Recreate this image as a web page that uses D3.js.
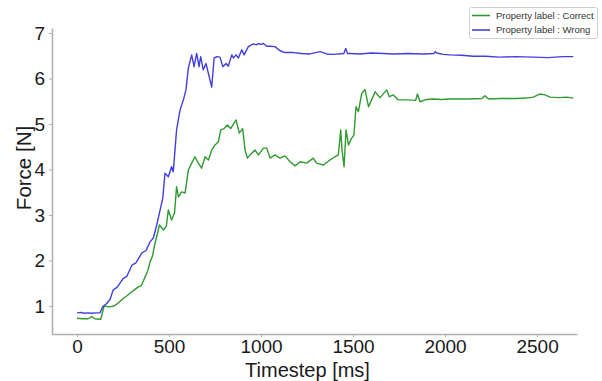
<!DOCTYPE html>
<html>
<head>
<meta charset="utf-8">
<script src="https://cdn.jsdelivr.net/npm/d3@7"></script>
<style>
  html, body { margin: 0; padding: 0; background: #fff; }
  svg { display: block; font-family: "Liberation Sans", Arial, sans-serif; }
</style>
</head>
<body>
<svg id="chart" width="602" height="381"></svg>
<script>
const seriesNames = ["Property label : Correct", "Property label : Wrong"];
const seriesColors = ["#2f9a2f", "#4040e0"];

const correctTime = [0,30,60,80,95,129,147,179,200,216,252,270,288,310,333,350,370,385,397,410,424,448,470,485,496,514,530,541,551,569,587,605,623,641,659,677,696,714,732,750,768,781,799,817,835,864,882,900,913,926,949,967,986,1013,1031,1049,1076,1103,1130,1158,1185,1212,1248,1284,1302,1339,1375,1402,1420,1433,1440,1451,1462,1475,1487,1505,1516,1529,1547,1565,1584,1601,1620,1647,1683,1697,1719,1746,1792,1840,1850,1864,1900,1937,1980,2027,2070,2118,2200,2217,2236,2300,2390,2440,2480,2516,2543,2571,2620,2661,2697];
const correctForce = [0.73,0.72,0.72,0.77,0.72,0.71,1.00,0.98,1.00,1.04,1.17,1.22,1.28,1.35,1.42,1.45,1.64,1.78,1.97,2.10,2.38,2.78,2.67,2.75,3.11,2.89,3.05,3.62,3.40,3.51,3.48,3.99,4.14,4.28,4.14,4.03,4.28,4.21,4.43,4.54,4.61,4.87,4.90,4.98,4.90,5.09,4.80,4.90,4.43,4.25,4.36,4.43,4.32,4.47,4.47,4.25,4.32,4.25,4.30,4.17,4.08,4.17,4.14,4.25,4.14,4.10,4.21,4.28,4.32,4.87,4.43,4.06,4.87,4.54,4.65,4.76,5.38,5.27,5.67,5.76,5.38,5.53,5.71,5.58,5.75,5.60,5.64,5.53,5.53,5.52,5.66,5.49,5.54,5.55,5.54,5.55,5.55,5.55,5.56,5.62,5.55,5.56,5.56,5.57,5.59,5.66,5.64,5.59,5.58,5.59,5.57];

const wrongTime = [0,20,40,60,80,100,125,140,160,180,196,220,250,270,299,320,353,375,397,415,433,451,466,478,496,514,523,541,560,578,592,605,623,636,650,663,672,686,701,714,732,745,759,777,792,810,822,841,850,864,877,895,908,931,958,975,986,1000,1013,1031,1049,1076,1103,1130,1176,1220,1266,1321,1357,1393,1450,1460,1470,1484,1538,1600,1665,1720,1800,1880,1940,1946,1955,1990,2027,2090,2152,2220,2299,2380,2479,2560,2640,2697];
const wrongForce = [0.85,0.86,0.84,0.85,0.84,0.85,0.85,0.99,1.05,1.15,1.35,1.42,1.60,1.65,1.90,1.95,2.17,2.22,2.41,2.50,2.78,3.10,3.37,3.92,3.84,4.06,3.95,4.87,5.31,5.53,5.75,6.23,6.52,6.26,6.55,6.26,6.48,6.19,6.33,6.11,5.81,6.45,6.48,6.47,6.26,6.33,6.27,6.52,6.45,6.52,6.45,6.63,6.52,6.70,6.76,6.74,6.77,6.75,6.77,6.71,6.71,6.70,6.61,6.57,6.57,6.55,6.54,6.59,6.54,6.53,6.55,6.66,6.55,6.55,6.54,6.56,6.55,6.54,6.55,6.54,6.55,6.59,6.56,6.53,6.52,6.51,6.49,6.49,6.47,6.48,6.47,6.46,6.48,6.48];

const xTicks = [0, 500, 1000, 1500, 2000, 2500];
const yTicks = [1, 2, 3, 4, 5, 6, 7];
const xLabel = "Timestep [ms]";
const yLabel = "Force [N]";

const svg = d3.select("#chart");
const x = d3.scaleLinear().domain([-136, 2717]).range([52, 577]);
const y = d3.scaleLinear().domain([0.385, 7.11]).range([334, 28]);

const axisColor = "#b0b0b0";
const textColor = "#1a1a1a";

// axes
const gx = svg.append("g").attr("transform", "translate(0,334)")
  .call(d3.axisBottom(x).tickValues(xTicks).tickFormat(d3.format("d"))
    .tickSize(3).tickPadding(3).tickSizeOuter(0));
const gy = svg.append("g").attr("transform", "translate(52,0)")
  .call(d3.axisLeft(y).tickValues(yTicks).tickFormat(d3.format("d"))
    .tickSize(3).tickPadding(4).tickSizeOuter(0));
[gx, gy].forEach(g => {
  g.select(".domain").attr("stroke", axisColor).attr("stroke-width", 1.6);
  g.selectAll(".tick line").attr("stroke", axisColor).attr("stroke-width", 1);
  g.selectAll(".tick text").attr("fill", textColor).style("font-size", "19px")
    .style("font-family", "'Liberation Sans', Arial, sans-serif");
});

// lines
const series = [
  { t: correctTime, v: correctForce, color: seriesColors[0] },
  { t: wrongTime, v: wrongForce, color: seriesColors[1] }
];
const line = d3.line().x(d => x(d[0])).y(d => y(d[1]));
series.forEach(s => {
  const pts = s.t.map((t, i) => [t, s.v[i]]);
  svg.append("path").datum(pts)
    .attr("d", line)
    .attr("fill", "none")
    .attr("stroke", s.color)
    .attr("stroke-width", 1.4)
    .attr("stroke-linejoin", "round");
});

// axis labels
svg.append("text").attr("x", 307.5).attr("y", 377)
  .attr("text-anchor", "middle").attr("fill", textColor)
  .style("font-size", "20px").text(xLabel);
svg.append("text").attr("transform", "translate(31,168) rotate(-90)")
  .attr("text-anchor", "middle").attr("fill", textColor)
  .style("font-size", "20.5px").text(yLabel);

// legend
const lg = svg.append("g");
lg.append("rect").attr("x", 469.5).attr("y", 7.5).attr("width", 128).attr("height", 31)
  .attr("rx", 2).attr("fill", "#fff").attr("stroke", "#d0d0d0").attr("stroke-width", 1);
seriesNames.forEach((name, i) => {
  const ly = 15.5 + i * 14.5;
  lg.append("line").attr("x1", 472).attr("x2", 490).attr("y1", ly).attr("y2", ly)
    .attr("stroke", seriesColors[i]).attr("stroke-width", 1.6);
  lg.append("text").attr("x", 496).attr("y", ly).attr("dy", "0.35em")
    .attr("fill", "#333").style("font-size", "9.5px").text(name);
});
</script>
</body>
</html>
